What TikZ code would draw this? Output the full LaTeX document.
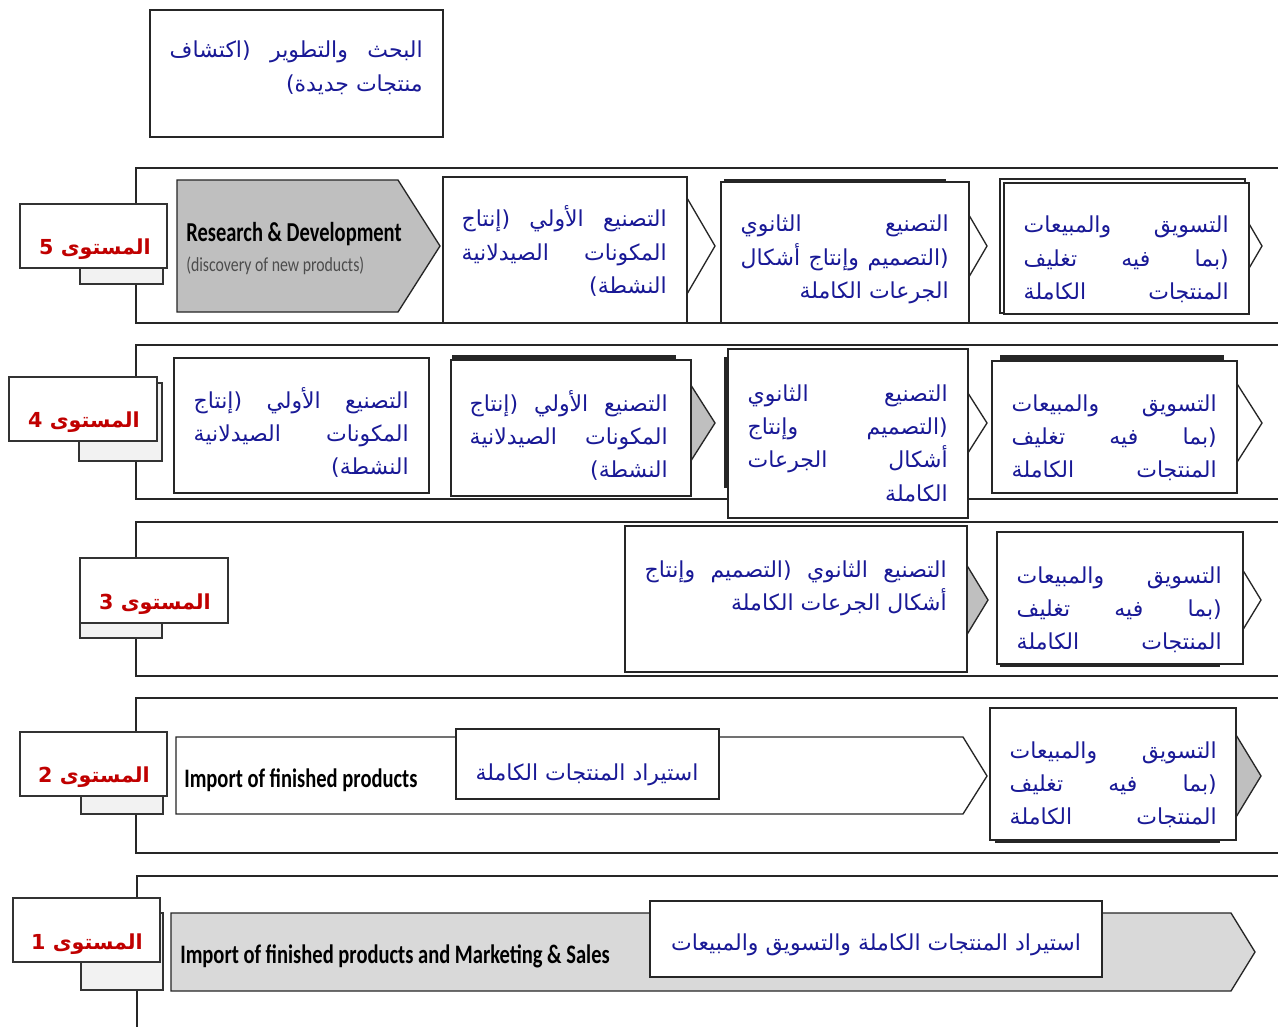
\documentclass[tikz,border=0pt]{standalone}
\usepackage{fontspec}
\usepackage{graphicx}
\TeXXeTstate=1
\newfontfamily\arfont[Script=Arabic]{DejaVu Sans}
\newfontfamily\enfont{Carlito}
\newdimen\pxu \pxu=0.75pt
\newdimen\ARw
\definecolor{arblue}{RGB}{25,25,150}
\definecolor{lvlred}{RGB}{192,0,0}
\definecolor{rdgray}{RGB}{191,191,191}
\definecolor{litgray}{RGB}{217,217,217}
\definecolor{tabgray}{RGB}{242,242,242}
\newcommand\ARl[1]{\hbox to\ARw{\beginR#1\endR}}
\newcommand\ARpar[2]{\ARw=#1\pxu\vtop{\baselineskip=25pt\lineskiplimit=-1000pt\relax#2}}
\newcommand\PRIM{\ARl{التصنيع\hfill الأولي\hfill (إنتاج}\ARl{المكونات\hfill الصيدلانية}\ARl{النشطة)\hfill}}
\newcommand\MKT{\ARl{التسويق\hfill والمبيعات}\ARl{(بما\hfill فيه\hfill تغليف}\ARl{المنتجات\hfill الكاملة}}
\newcommand\Chev[6]{\path[#6] (#1,{#4-#5}) -- (#2,{#4-#5}) -- (#3,#4) -- (#2,{#4+#5}) -- (#1,{#4+#5}) -- cycle;}
\begin{document}
\begin{tikzpicture}[x=0.75pt,y=-0.75pt,
 frame/.style={line width=2pt,draw=black!85},
 boxst/.style={draw=black!85,fill=white,line width=1pt},
 chevw/.style={draw=black!85,fill=white,line width=1pt},
 chevg/.style={draw=black!85,fill=rdgray,line width=1pt},
 shade/.style={fill=black!85,draw=none},
 tabst/.style={fill=tabgray,draw=black!80,line width=1.2pt},
 lvlbox/.style={draw=black!80,fill=white,line width=1pt},
 lvltext/.style={font=\arfont\bfseries\fontsize{15.5}{19}\selectfont,text=lvlred,inner sep=0pt},
 artext/.style={font=\arfont\fontsize{16.5}{25}\selectfont,text=arblue,inner sep=0pt},
 entext/.style={font=\enfont,inner sep=0pt,text=black},
]
\useasboundingbox (0,0) rectangle (1278,1027);
\clip (0,0) rectangle (1278,1027);
\fill[white] (0,0) rectangle (1278,1027);

% top box
\draw[boxst,line width=1.2pt] (150,10) rectangle (443,137);
\node[artext,anchor=base east] (tbt) at (423,58) {\ARpar{253}{\ARl{البحث\hfill والتطوير\hfill (اكتشاف}\ARl{منتجات جديدة)\hfill}}};

% row frames
\draw[frame] (1290,168) -- (136,168) -- (136,323) -- (1290,323);
\draw[frame] (1290,345) -- (136,345) -- (136,499) -- (1290,499);
\draw[frame] (1290,522) -- (136,522) -- (136,676) -- (1290,676);
\draw[frame] (1290,698) -- (136,698) -- (136,853) -- (1290,853);
\draw[frame] (1290,876) -- (137,876) -- (137,1040);

% ---------- row 5
\path[draw=black!85,fill=rdgray,line width=1pt] (177,180) -- (398,180) -- (440,246) -- (398,312) -- (177,312) -- cycle;
\node[entext,anchor=base west] (rd1) at (186,241) {\fontsize{20.5}{24}\selectfont\bfseries\scalebox{0.75}[1]{Research \& Development}};
\node[entext,anchor=base west] (rd2) at (186,272) {\fontsize{15}{18}\selectfont\color{black!70}\scalebox{0.79}[1]{(discovery of new products)}};
\Chev{450}{687}{715}{246}{48}{chevw}
\Chev{730}{959}{987}{246}{48}{chevw}
\Chev{1010}{1234}{1262}{246}{48}{chevw}
\draw[boxst] (443,177) rectangle (687,323);
\node[artext,anchor=base east] (t5b) at (667,227) {\ARpar{205}{\PRIM}};
\fill[shade] (724,179) rectangle (946,200);
\draw[boxst] (721,182) rectangle (969,323);
\node[artext,anchor=base east] (t5c) at (949,232) {\ARpar{208}{\ARl{التصنيع\hfill الثانوي}\ARl{(التصميم\hfill وإنتاج\hfill أشكال}\ARl{الجرعات الكاملة\hfill}}};
\draw[boxst] (1000,179) rectangle (1245,313);
\draw[boxst] (1004,183) rectangle (1249,314);
\node[artext,anchor=base east] (t5d) at (1229,233) {\ARpar{205}{\MKT}};

% ---------- row 4
\draw[boxst] (174,358) rectangle (429,493);
\node[artext,anchor=base east] (t4a) at (409,408) {\ARpar{215}{\PRIM}};
\Chev{460}{687}{715}{423}{44}{chevg}
\fill[shade] (452,355) rectangle (676,380);
\draw[boxst] (451,360) rectangle (691,496);
\node[artext,anchor=base east] (t4b) at (668,411) {\ARpar{198}{\PRIM}};
\Chev{740}{959}{987}{423}{44}{chevw}
\fill[shade] (724,357) rectangle (740,488);
\draw[boxst] (728,349) rectangle (968,518);
\node[artext,anchor=base east] (t4c) at (948,401) {\ARpar{200}{\ARl{التصنيع\hfill الثانوي}\ARl{(التصميم\hfill وإنتاج}\ARl{أشكال\hfill الجرعات}\ARl{الكاملة\hfill}}};
\Chev{1000}{1234}{1262}{423}{44}{chevw}
\fill[shade] (1000,355) rectangle (1224,380);
\draw[boxst] (992,361) rectangle (1237,493);
\node[artext,anchor=base east] (t4d) at (1217,411) {\ARpar{205}{\MKT}};

% ---------- row 3
\Chev{640}{960}{988}{600}{46}{chevg}
\draw[boxst] (625,526) rectangle (967,672);
\node[artext,anchor=base east] (t3a) at (947,577) {\ARpar{302}{\ARl{التصنيع\hfill الثانوي\hfill (التصميم\hfill وإنتاج}\ARl{أشكال الجرعات الكاملة\hfill}}};
\Chev{1005}{1233}{1261}{600}{46}{chevw}
\fill[shade] (1000,640) rectangle (1220,667);
\draw[boxst] (997,532) rectangle (1243,664);
\node[artext,anchor=base east] (t3b) at (1222,583) {\ARpar{205}{\MKT}};

% ---------- row 2
\path[draw=black!85,fill=white,line width=1pt] (176,737) -- (963,737) -- (987,776) -- (963,814) -- (176,814) -- cycle;
\node[entext,anchor=base west] (imp2) at (184,787) {\fontsize{20}{24}\selectfont\bfseries\scalebox{0.77}[1]{Import of finished products}};
\draw[boxst] (456,729) rectangle (719,799);
\node[artext,anchor=base] (t2a) at (587,780) {\beginR استيراد المنتجات الكاملة\endR};
\Chev{1000}{1233}{1261}{776}{46}{chevg}
\fill[shade] (995,820) rectangle (1220,843);
\draw[boxst] (990,708) rectangle (1236,840);
\node[artext,anchor=base east] (t2b) at (1217,758) {\ARpar{207}{\MKT}};

% ---------- row 1
\path[draw=black!85,fill=litgray,line width=1pt] (171,913) -- (1231,913) -- (1255,952) -- (1231,991) -- (171,991) -- cycle;
\node[entext,anchor=base west] (imp1) at (180,963) {\fontsize{20}{24}\selectfont\bfseries\scalebox{0.77}[1]{Import of finished products and Marketing \& Sales}};
\draw[boxst] (650,901) rectangle (1102,977);
\node[artext,anchor=base] (t1a) at (876,950) {\beginR استيراد المنتجات الكاملة والتسويق والمبيعات\endR};

% ---------- level labels
\draw[tabst] (80,219) rectangle (163,284);
\draw[lvlbox] (20,204) rectangle (167,268);
\node[lvltext] (lv5) at (95,249) {\beginR المستوى 5\endR};
\draw[tabst] (79,383) rectangle (162,461);
\draw[lvlbox] (9,377) rectangle (157,441);
\node[lvltext] (lv4) at (84,422) {\beginR المستوى 4\endR};
\draw[tabst] (80,573) rectangle (162,638);
\draw[lvlbox] (80,558) rectangle (228,623);
\node[lvltext] (lv3) at (155,604) {\beginR المستوى 3\endR};
\draw[tabst] (81,747) rectangle (163,814);
\draw[lvlbox] (20,732) rectangle (167,796);
\node[lvltext] (lv2) at (94,777) {\beginR المستوى 2\endR};
\draw[tabst] (81,913) rectangle (163,990);
\draw[lvlbox] (13,898) rectangle (160,962);
\node[lvltext] (lv1) at (87,944) {\beginR المستوى 1\endR};
\end{tikzpicture}
\end{document}
